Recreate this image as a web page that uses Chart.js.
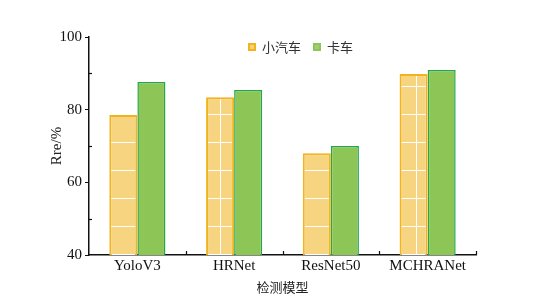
<!DOCTYPE html>
<html>
<head>
<meta charset="utf-8">
<script src="https://cdn.jsdelivr.net/npm/chart.js@4/dist/chart.umd.min.js"></script>
<style>
  html, body { margin: 0; padding: 0; background: #fff; }
  #wrap { width: 540px; height: 308px; }
</style>
</head>
<body>
<div id="wrap"><canvas id="chart"></canvas></div>
<script>
// 資料
const models = ['YoloV3', 'HRNet', 'ResNet50', 'MCHRANet'];
const carValues = [78.5, 83.4, 68.0, 89.8];
const truckValues = [87.6, 85.4, 70.0, 90.9];
const seriesNames = ['小汽车', '卡车'];
const yTicks = [40, 60, 80, 100];
const yMinorTicks = [50, 70, 90];

const serif = '"Liberation Serif", "DejaVu Serif", serif';
const cjk = '"Noto Sans CJK SC", sans-serif';

// 橘色長條的格線圖樣
function makeGridPattern() {
  const c = document.createElement('canvas');
  c.width = 28; c.height = 28;
  const g = c.getContext('2d');
  g.fillStyle = '#f7d47f';
  g.fillRect(0, 0, 28, 28);
  g.fillStyle = '#ffffff';
  g.fillRect(0, 0, 28, 1);
  g.fillRect(0, 0, 1, 28);
  const p = document.getElementById('chart').getContext('2d').createPattern(c, 'repeat');
  p.setTransform(new DOMMatrix().translate(24, 2));
  return p;
}
const orangeFill = makeGridPattern();

// 圖內圖例 + 向內的刻度
const extras = {
  id: 'extras',
  afterDraw(chart) {
    const ctx = chart.ctx;
    const xs = chart.scales.x;
    const ys = chart.scales.y;
    ctx.save();

    // x 軸分隔刻度（向上）
    ctx.strokeStyle = '#111';
    ctx.lineWidth = 1.2;
    const n = models.length;
    for (let i = 1; i <= n; i++) {
      const x = Math.round(xs.left + (xs.right - xs.left) * i / n) + 0.5;
      ctx.beginPath();
      ctx.moveTo(x, ys.bottom);
      ctx.lineTo(x, ys.bottom - 4);
      ctx.stroke();
    }
    // y 軸次刻度（向右）
    yMinorTicks.forEach(v => {
      const y = Math.round(ys.getPixelForValue(v)) + 0.5;
      ctx.beginPath();
      ctx.moveTo(xs.left, y);
      ctx.lineTo(xs.left + 3, y);
      ctx.stroke();
    });

    // 圖例
    const items = [
      { x: 248, text: seriesNames[0], fill: '#f7d47f', border: '#f2b31c' },
      { x: 313, text: seriesNames[1], fill: '#9fce72', border: '#8dc557' },
    ];
    const y = 47;
    ctx.font = '13px ' + cjk;
    ctx.textBaseline = 'middle';
    items.forEach(it => {
      ctx.fillStyle = it.border;
      ctx.fillRect(it.x, y - 4, 8, 8);
      ctx.fillStyle = it.fill;
      ctx.fillRect(it.x + 2, y - 2, 4, 4);
      ctx.fillStyle = '#333';
      ctx.fillText(it.text, it.x + 14, y + 0.5);
    });
    ctx.restore();
  },
};

new Chart(document.getElementById('chart'), {
  type: 'bar',
  data: {
    labels: models,
    datasets: [
      {
        label: seriesNames[0],
        data: carValues,
        backgroundColor: orangeFill,
        borderColor: '#f2b31c',
        borderWidth: 2,
        borderSkipped: 'start',
      },
      {
        label: seriesNames[1],
        data: truckValues,
        backgroundColor: '#8dc557',
        borderColor: '#22a84a',
        borderWidth: 1.5,
        borderSkipped: 'start',
      },
    ],
  },
  options: {
    responsive: true,
    maintainAspectRatio: false,
    animation: false,
    events: [],
    categoryPercentage: 0.58,
    barPercentage: 1.0,
    layout: { padding: { left: 0, right: 64, top: 37, bottom: 0 } },
    plugins: {
      legend: { display: false },
      tooltip: { enabled: false },
    },
    scales: {
      x: {
        grid: { display: false, drawTicks: false },
        border: { display: true, color: '#111', width: 1.5 },
        ticks: { color: '#111', font: { family: serif, size: 15 }, padding: 2 },
        title: {
          display: true,
          text: '检测模型',
          color: '#222',
          font: { family: cjk, size: 13 },
          padding: { top: 0, bottom: 13 },
        },
        afterFit(scale) { scale.height = 53; },
      },
      y: {
        min: 40,
        max: 100,
        grid: {
          display: true,
          drawOnChartArea: false,
          drawTicks: true,
          tickLength: 4,
          color: ctx => yTicks.includes(ctx.tick && ctx.tick.value) ? '#111' : 'rgba(0,0,0,0)',
        },
        border: { display: true, color: '#111', width: 1.5 },
        ticks: {
          stepSize: 10,
          color: '#111',
          padding: 3,
          font: { family: serif, size: 15 },
          callback: v => yTicks.includes(v) ? String(v) : '',
        },
        title: {
          display: true,
          text: 'Rre/%',
          color: '#222',
          font: { family: serif, size: 15 },
          padding: { top: 48, bottom: 48 },
        },
        afterFit(scale) { scale.width = 89; },
      },
    },
  },
  plugins: [extras],
});
</script>
</body>
</html>
